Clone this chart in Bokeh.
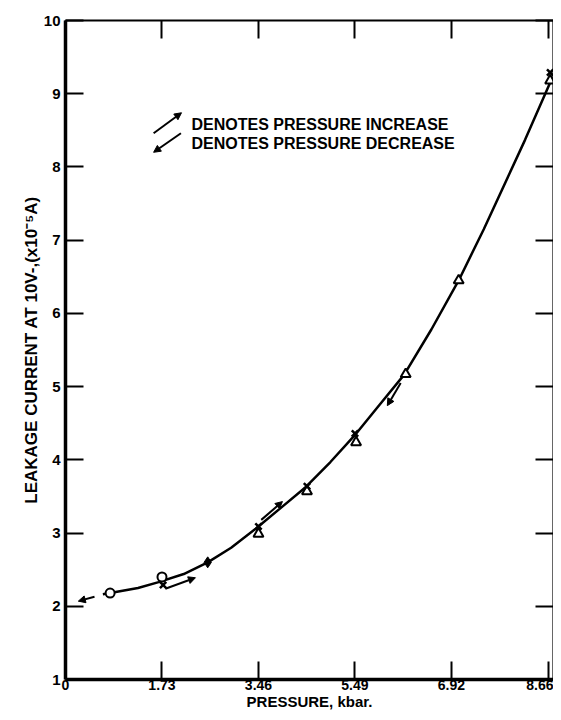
from bokeh.plotting import figure
from bokeh.models import LinearAxis, FixedTicker, Arrow, NormalHead, ColumnDataSource, CustomJSTickFormatter
from bokeh.core.properties import value
from bokeh.embed import file_html
from bokeh.resources import INLINE

# ---- data ----
x_ticks = [0, 1.73, 3.46, 5.19, 6.92, 8.66]
x_tick_labels = ["0", "1.73", "3.46", "5.49", "6.92", "8.66"]
y_ticks = [1, 2, 3, 4, 5, 6, 7, 8, 9, 10]

curve_x = [0.67, 0.80, 1.30, 1.67, 2.12, 2.55, 2.97, 3.41, 3.84, 4.31, 4.75,
           5.18, 5.65, 6.07, 6.56, 7.05, 7.50, 8.24, 8.73]
curve_y = [2.165, 2.18, 2.25, 2.33, 2.44, 2.60, 2.80, 3.06, 3.33, 3.63, 3.97,
           4.33, 4.77, 5.16, 5.78, 6.45, 7.15, 8.37, 9.22]

circle_x = [0.80, 1.73]
circle_y = [2.18, 2.40]
cross_x = [1.75, 3.46, 4.33, 5.19, 8.69]
cross_y = [2.29, 3.09, 3.64, 4.36, 9.29]
tri_x = [3.46, 4.33, 5.21, 6.10, 7.05, 8.69]
tri_y = [2.99, 3.57, 4.24, 5.17, 6.45, 9.18]
diam_x = [2.55]
diam_y = [2.60]

# arrows: (start -> end), head at end
inc_x0 = [1.79, 3.51, 1.58]
inc_y0 = [2.24, 3.18, 8.46]
inc_x1 = [2.33, 3.89, 2.08]
inc_y1 = [2.39, 3.43, 8.74]
dec_x0 = [0.52, 6.01, 2.07]
dec_y0 = [2.13, 5.05, 8.46]
dec_x1 = [0.23, 5.77, 1.58]
dec_y1 = [2.07, 4.74, 8.20]

legend_lines = ["DENOTES PRESSURE INCREASE", "DENOTES PRESSURE DECREASE"]

FONT = "Liberation Sans"

p = figure(width=553, height=712, x_range=(0, 8.75), y_range=(1, 10),
           output_backend="svg", toolbar_location=None,
           min_border_left=65, min_border_right=0, min_border_top=20, min_border_bottom=28)
p.grid.visible = False
p.outline_line_color = None
p.background_fill_color = "white"

xt = FixedTicker(ticks=x_ticks)
yt = FixedTicker(ticks=y_ticks)

ax = p.xaxis[0]
ax.ticker = xt
ax.major_label_overrides = {t: l for t, l in zip(x_ticks, x_tick_labels)}
ax.axis_label = "PRESSURE, kbar."
ay = p.yaxis[0]
ay.ticker = yt
ay.axis_label = "LEAKAGE CURRENT AT 10V-,(x10\u207b\u2075A)"

for a in (ax, ay):
    a.axis_line_width = 3.5
    a.axis_line_color = "black"
    a.major_tick_in = 18
    a.major_tick_out = 0
    a.major_tick_line_width = 2
    a.minor_tick_line_color = None
    a.major_label_text_font = FONT
    a.major_label_text_font_style = "bold"
    a.major_label_text_font_size = "15px"
    a.major_label_text_color = "black"
    a.axis_label_text_font = FONT
    a.axis_label_text_font_style = "bold"
    a.axis_label_text_color = "black"
ax.major_label_text_font_size = "14px"
ax.major_label_standoff = 0
ax.axis_label_standoff = 0
ax.axis_label_text_font_size = "15px"
ay.major_label_standoff = 5
ay.axis_label_standoff = 0
ay.axis_label_text_font_size = "17px"

blank = CustomJSTickFormatter(code="return ''")
for ticker, side in ((yt, "right"), (xt, "above")):
    a = LinearAxis(ticker=ticker, formatter=blank, major_tick_in=18, major_tick_out=0,
                   major_tick_line_width=2, minor_tick_line_color=None,
                   axis_line_width=2.2, major_label_standoff=0)
    p.add_layout(a, side)

p.line(curve_x, curve_y, line_color="black", line_width=2.5)

p.scatter(circle_x, circle_y, marker="circle", size=9, fill_color="white",
          line_color="black", line_width=2)
p.scatter(tri_x, tri_y, marker="triangle", size=10, fill_color="white",
          line_color="black", line_width=2)
p.scatter(cross_x, cross_y, marker="x", size=9, line_color="black", line_width=2.5)
p.scatter(diam_x, diam_y, marker="diamond", size=11, fill_color="black",
          line_color="black")

inc_src = ColumnDataSource(dict(x0=inc_x0, y0=inc_y0, x1=inc_x1, y1=inc_y1))
dec_src = ColumnDataSource(dict(x0=dec_x0, y0=dec_y0, x1=dec_x1, y1=dec_y1))
for src in (inc_src, dec_src):
    p.add_layout(Arrow(source=src, x_start="x0", y_start="y0", x_end="x1", y_end="y1",
                       line_width=2, line_color="black",
                       end=NormalHead(size=7, fill_color="black", line_color="black")))

p.text(x=[2.26, 2.26], y=[8.58, 8.32], text=legend_lines,
       text_font=value(FONT), text_font_style="bold", text_font_size="16px",
       text_align="left", text_baseline="middle", text_color="black")

open("out.html", "w").write(file_html(p, INLINE))
